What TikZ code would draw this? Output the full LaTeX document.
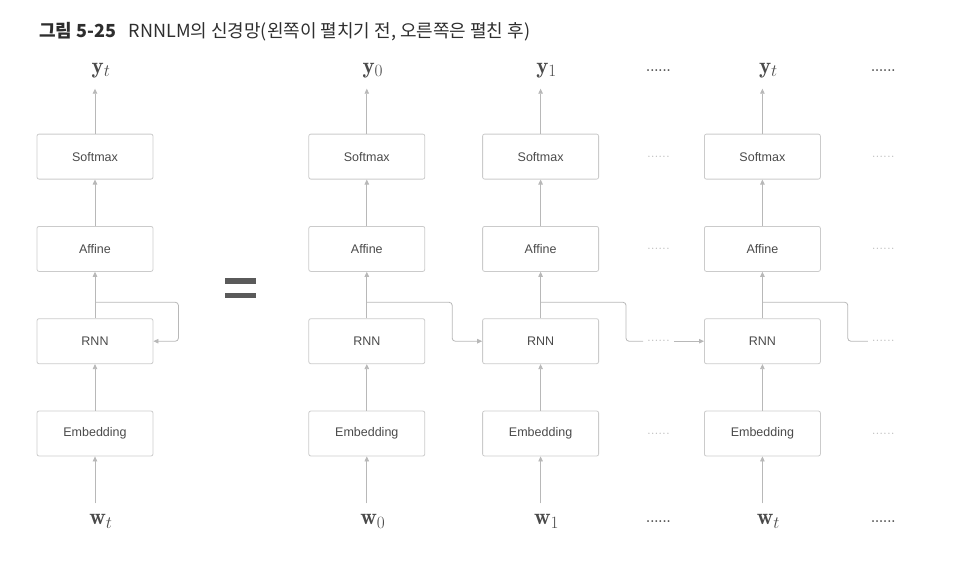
\documentclass[tikz,border=0pt]{standalone}
\usepackage{fontspec}
\newfontfamily\krfont{Noto Sans CJK KR}
\newfontfamily\boxfont{Liberation Sans}
\usepackage{tikz}
\usetikzlibrary{positioning,arrows.meta}

\definecolor{linegray}{HTML}{B8B8B8}
\definecolor{boxgray}{HTML}{CBCBCB}
\definecolor{txtgray}{HTML}{4A4A4A}
\definecolor{lblgray}{HTML}{4A4A4A}
\definecolor{dotgray}{HTML}{BDBDBD}
\definecolor{titlegray}{HTML}{2E2E2E}
\definecolor{eqgray}{HTML}{5A5A5A}

\begin{document}
\begin{tikzpicture}[x=1pt, y=1pt, >={Triangle[length=5pt,width=4.5pt]}, node distance=46.5pt,
		layer/.style={draw=boxgray, line width=0.8pt, rounded corners=2pt, minimum width=116pt, minimum height=45pt, text=txtgray, font=\boxfont\fontsize{12.5}{14}\selectfont},
		route/.style={draw=linegray, line width=0.8pt, rounded corners=3pt},
		flow/.style={route, ->},
		vec/.style={inner sep=0pt, outer sep=11pt, xshift=6pt, text=lblgray, font=\fontsize{23}{26}\selectfont},
		more/.style={inner sep=0pt, outer sep=4pt, text=dotgray, font=\fontsize{14}{14}\selectfont},
		moredark/.style={more, text=lblgray, font=\bfseries\fontsize{13}{13}\selectfont}]
		\useasboundingbox (0,0) rectangle (956,-560);

		\node[anchor=west, inner sep=0pt, text=titlegray, font=\krfont\fontsize{18}{22}\selectfont] (title) at (39,-32) {\textbf{그림 5-25}\hspace{0.7em}RNNLM의 신경망(왼쪽이 펼치기 전, 오른쪽은 펼친 후)};

		% folded network
		\node[layer] (embL) at (95,-433.5) {Embedding};
		\node[layer, above=of embL] (rnnL) {RNN};
		\node[layer, above=of rnnL] (afL) {Affine};
		\node[layer, above=of afL] (smL) {Softmax};
		\node[vec, above=45pt of smL] (yL) {$\mathbf{y}_t$};
		\node[vec, below=47pt of embL] (wL) {$\mathbf{w}_t$};

		% unfolded network
		\node[layer, right=155pt of embL] (emb0) {Embedding};
		\node[layer, above=of emb0] (rnn0) {RNN};
		\node[layer, above=of rnn0] (af0) {Affine};
		\node[layer, above=of af0] (sm0) {Softmax};
		\node[vec, above=45pt of sm0] (y0) {$\mathbf{y}_0$};
		\node[vec, below=47pt of emb0] (w0) {$\mathbf{w}_0$};

		\node[layer, right=57pt of emb0] (emb1) {Embedding};
		\node[layer, above=of emb1] (rnn1) {RNN};
		\node[layer, above=of rnn1] (af1) {Affine};
		\node[layer, above=of af1] (sm1) {Softmax};
		\node[vec, above=45pt of sm1] (y1) {$\mathbf{y}_1$};
		\node[vec, below=47pt of emb1] (w1) {$\mathbf{w}_1$};

		\node[layer, right=105pt of emb1] (embt) {Embedding};
		\node[layer, above=of embt] (rnnt) {RNN};
		\node[layer, above=of rnnt] (aft) {Affine};
		\node[layer, above=of aft] (smt) {Softmax};
		\node[vec, above=45pt of smt] (yt) {$\mathbf{y}_t$};
		\node[vec, below=47pt of embt] (wt) {$\mathbf{w}_t$};

		% hidden state paths
		\coordinate[above=16pt of rnnL] (bL);
		\coordinate[right=25pt of rnnL] (cL);
		\coordinate[above=16pt of rnn0] (b0);
		\coordinate[right=27pt of rnn0] (c0);
		\coordinate[above=16pt of rnn1] (b1);
		\coordinate[right=27pt of rnn1] (c1);
		\coordinate[above=16pt of rnnt] (bt);
		\coordinate[right=27pt of rnnt] (ct);
		\node[more, right=17pt of c1] (d1) {......};
		\node[more, right=20pt of ct] (dt) {......};

		% omitted steps
		\node[moredark] (dy1) at (d1 |- y1) {......};
		\node[moredark] (dyt) at (dt |- yt) {......};
		\node[more] (ds1) at (d1 |- sm1) {......};
		\node[more] (dst) at (dt |- smt) {......};
		\node[more] (da1) at (d1 |- af1) {......};
		\node[more] (dat) at (dt |- aft) {......};
		\node[more] (de1) at (d1 |- emb1) {......};
		\node[more] (det) at (dt |- embt) {......};
		\node[moredark] (dw1) at (d1 |- w1) {......};
		\node[moredark] (dwt) at (dt |- wt) {......};

		% equals sign
		\draw[eqgray, line width=5.5pt] (225,-281) -- (256,-281);
		\draw[eqgray, line width=5.5pt] (225,-295.5) -- (256,-295.5);

		\foreach \c in {L,0,1,t} {
			\draw[flow] (w\c.north -| emb\c) -- (emb\c);
			\draw[flow] (emb\c) -- (rnn\c);
			\draw[flow] (rnn\c) -- (af\c);
			\draw[flow] (af\c) -- (sm\c);
			\draw[flow] (sm\c) -- (sm\c |- y\c.south);
		}

		\draw[flow] (bL) -| (cL) -- (rnnL);
		\draw[flow] (b0) -| (c0) -- (rnn1);
		\draw[route] (b1) -| (c1) -- (d1);
		\draw[flow] (d1) -- (rnnt);
		\draw[route] (bt) -| (ct) -- (dt);
	\end{tikzpicture}
\end{document}
